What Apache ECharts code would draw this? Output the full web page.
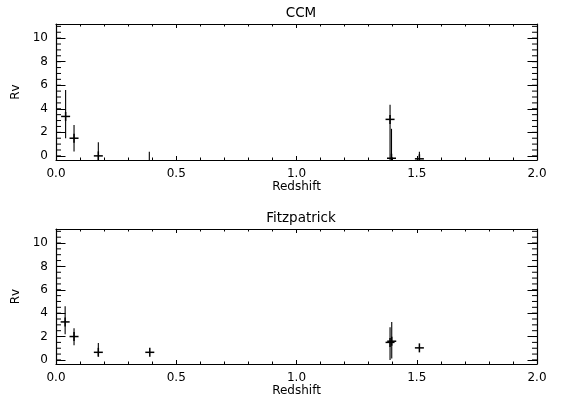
<!DOCTYPE html>
<html>
<head>
<meta charset="utf-8">
<script src="https://cdn.jsdelivr.net/npm/echarts@6/dist/echarts.min.js"></script>
<style>html,body{margin:0;padding:0;background:#fff;}#c{width:565px;height:402px;}</style>
</head>
<body>
<div id="c"></div>
<script>
// ---- data ----
const titles = ['CCM', 'Fitzpatrick'];
const xTitle = 'Redshift';
const yTitle = 'Rv';
const yMajorTicks = [0, 2, 4, 6, 8, 10];
const yMinorTicks = [0, 0.5, 1, 1.5, 2, 2.5, 3, 3.5, 4, 4.5, 5, 5.5, 6, 6.5, 7, 7.5, 8, 8.5, 9, 9.5, 10, 10.5, 11];

// CCM panel
const ccmZ  = [0.040, 0.075, 0.176, 0.388, 1.389, 1.395, 1.511];
const ccmRv = [3.35, 1.5, 0.0, -0.9, 3.1, -0.2, -0.25];
const ccmLo = [1.5, 0.37, -1.2, -2.2, -1.0, -2.6, -1.0];
const ccmHi = [5.6, 2.63, 1.15, 0.35, 4.35, 2.3, 0.35];

// Fitzpatrick panel
const fitZ  = [0.038, 0.075, 0.176, 0.390, 1.389, 1.396, 1.511];
const fitRv = [3.25, 2.0, 0.65, 0.65, 1.5, 1.6, 1.03];
const fitLo = [2.2, 1.25, 0.35, 0.65, 0.0, 0.12, 1.03];
const fitHi = [4.6, 2.7, 1.45, 0.65, 2.8, 3.25, 1.03];

// ---- chart ----
const FONT = 'DejaVu Sans';
const YMIN = -0.35, YMAX = 11.2;
const grids = [
  {left: 56, right: 28, top: 24, height: 136},
  {left: 56, right: 28, top: 229, height: 135}
];

function pack(z, rv, lo, hi) {
  return z.map((v, i) => [v, rv[i], lo[i], hi[i]]);
}

function renderItem(params, api) {
  const x = api.value(0), y = api.value(1), lo = api.value(2), hi = api.value(3);
  const p = api.coord([x, y]);
  const pl = api.coord([x, lo]);
  const ph = api.coord([x, hi]);
  const cs = params.coordSys;
  const s = 4.5;
  const children = [];
  if (hi !== lo) {
    children.push({type: 'line', shape: {x1: pl[0], y1: pl[1], x2: ph[0], y2: ph[1]},
      style: {stroke: '#000', lineWidth: 1.1}});
  }
  children.push({type: 'line', shape: {x1: p[0] - s, y1: p[1], x2: p[0] + s, y2: p[1]},
    style: {stroke: '#000', lineWidth: 1.5}});
  children.push({type: 'line', shape: {x1: p[0], y1: p[1] - s, x2: p[0], y2: p[1] + s},
    style: {stroke: '#000', lineWidth: 1.5}});
  return {
    type: 'group',
    clipPath: {type: 'rect', shape: {x: cs.x, y: cs.y, width: cs.width, height: cs.height}},
    children: children
  };
}

// minor y ticks on both sides, placed through the axis scale
function renderMinor(params, api) {
  const v = api.value(1);
  const c = api.coord([0, v]);
  const cs = params.coordSys;
  const L = 5;
  return {
    type: 'group',
    children: [
      {type: 'line', shape: {x1: cs.x, y1: c[1], x2: cs.x + L, y2: c[1]},
        style: {stroke: '#000', lineWidth: 1}},
      {type: 'line', shape: {x1: cs.x + cs.width - L, y1: c[1], x2: cs.x + cs.width, y2: c[1]},
        style: {stroke: '#000', lineWidth: 1}}
    ]
  };
}

const xAxes = [], yAxes = [], series = [], titleArr = [];
grids.forEach((g, gi) => {
  titleArr.push({
    text: titles[gi], left: 296, top: g.top - 23, textAlign: 'center',
    textStyle: {fontFamily: FONT, fontSize: 13.5, fontWeight: 'normal', color: '#000'}
  });
  // bottom x axis
  xAxes.push({
    gridIndex: gi, type: 'value', position: 'bottom', min: 0, max: 2, interval: 0.5,
    name: xTitle, nameLocation: 'middle', nameGap: 20,
    nameTextStyle: {fontFamily: FONT, fontSize: 12, color: '#000'},
    axisLine: {show: true, onZero: false, lineStyle: {color: '#000', width: 1.2}},
    axisTick: {show: true, inside: true, length: 4, lineStyle: {color: '#000', width: 1}},
    minorTick: {show: true, splitNumber: 5, length: 2.5, lineStyle: {color: '#000', width: 1}},
    axisLabel: {fontFamily: FONT, fontSize: 12, color: '#000', margin: 8,
      formatter: v => v.toFixed(1)},
    splitLine: {show: false}, minorSplitLine: {show: false}
  });
  // top mirror x axis
  xAxes.push({
    gridIndex: gi, type: 'value', position: 'top', min: 0, max: 2, interval: 0.5,
    axisLine: {show: true, onZero: false, lineStyle: {color: '#000', width: 1.2}},
    axisTick: {show: true, inside: true, length: 4, lineStyle: {color: '#000', width: 1}},
    minorTick: {show: true, splitNumber: 5, length: 2.5, lineStyle: {color: '#000', width: 1}},
    axisLabel: {show: false}, splitLine: {show: false}
  });
  // left y axis (major ticks + labels)
  yAxes.push({
    gridIndex: gi, type: 'value', min: YMIN, max: YMAX, position: 'left', offset: 0,
    name: yTitle, nameLocation: 'middle', nameGap: 27,
    nameTextStyle: {fontFamily: FONT, fontSize: 12, color: '#000'},
    axisLine: {show: true, onZero: false, lineStyle: {color: '#000', width: 1.2}},
    axisTick: {show: true, inside: true, length: 9.5, customValues: yMajorTicks,
      lineStyle: {color: '#000', width: 1}},
    axisLabel: {show: true, customValues: yMajorTicks, fontFamily: FONT, fontSize: 12,
      color: '#000', margin: 8},
    splitLine: {show: false}
  });
  // right mirror y axis
  yAxes.push({
    gridIndex: gi, type: 'value', min: YMIN, max: YMAX, position: 'right', offset: 0,
    axisLine: {show: true, onZero: false, lineStyle: {color: '#000', width: 1.2}},
    axisTick: {show: true, inside: true, length: 9.5, customValues: yMajorTicks,
      lineStyle: {color: '#000', width: 1}},
    axisLabel: {show: false},
    splitLine: {show: false}
  });
  series.push({
    type: 'custom', xAxisIndex: gi * 2, yAxisIndex: gi * 2,
    renderItem: renderMinor, encode: {x: 0, y: 1}, silent: true,
    data: yMinorTicks.map(v => [0, v])
  });
});

series.push({
  type: 'custom', name: titles[0], xAxisIndex: 0, yAxisIndex: 0,
  renderItem: renderItem, encode: {x: 0, y: 1},
  data: pack(ccmZ, ccmRv, ccmLo, ccmHi), silent: true
});
series.push({
  type: 'custom', name: titles[1], xAxisIndex: 2, yAxisIndex: 2,
  renderItem: renderItem, encode: {x: 0, y: 1},
  data: pack(fitZ, fitRv, fitLo, fitHi), silent: true
});

const chart = echarts.init(document.getElementById('c'), null, {renderer: 'canvas'});
chart.setOption({
  animation: false,
  backgroundColor: '#fff',
  title: titleArr,
  grid: grids,
  xAxis: xAxes,
  yAxis: yAxes,
  series: series
});
</script>
</body>
</html>
